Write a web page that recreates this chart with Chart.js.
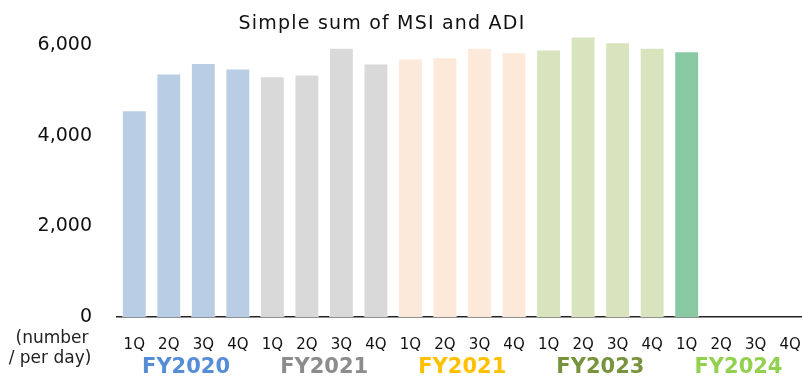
<!DOCTYPE html>
<html>
<head>
<meta charset="utf-8">
<script src="https://cdn.jsdelivr.net/npm/chart.js@4/dist/chart.umd.min.js"></script>
<style>
  html, body { margin: 0; padding: 0; background: #fff; overflow: hidden; }
  #msiChart { display: block; }
</style>
</head>
<body>
<canvas id="msiChart" width="820" height="376"></canvas>
<script>
// quarters along the x axis
const quarters = ['1Q', '2Q', '3Q', '4Q', '1Q', '2Q', '3Q', '4Q', '1Q', '2Q',
  '3Q', '4Q', '1Q', '2Q', '3Q', '4Q', '1Q', '2Q', '3Q', '4Q'];
// fiscal year groups (4 quarters each)
const fiscalYears = ['FY2020', 'FY2021', 'FY2021', 'FY2023', 'FY2024'];
const fyColors = ['#558ed5', '#8c8c8c', '#ffc000', '#77933c', '#92d050'];
const groupBarColors = ['#b9cde4', '#d9d9d9', '#fde9da', '#d8e4bd', '#88c8a2'];

// simple sum of MSI and ADI, number per day
const sumValues = [4570, 5380, 5610, 5490, 5320, 5360, 5950, 5600,
  5710, 5740, 5950, 5850, 5910, 6200, 6070, 5950, 5870, null, null, null];

const yTicks = [0, 2000, 4000, 6000];

const barColors = quarters.map((q, i) => groupBarColors[Math.floor(i / 4)]);

const textFont = '"DejaVu Sans", Verdana, sans-serif';

const extraText = {
  id: 'extraText',
  afterDraw(chart) {
    const ctx = chart.ctx;
    ctx.save();
    ctx.fillStyle = '#111';
    ctx.textBaseline = 'middle';
    ctx.font = '19px ' + textFont;
    ctx.letterSpacing = '1.2px';
    ctx.textAlign = 'center';
    ctx.fillText('Simple sum of MSI and ADI', 382, 24);
    ctx.letterSpacing = '0px';
    ctx.font = '17px ' + textFont;
    ctx.fillStyle = '#222';
    ctx.fillText('(number', 52, 339);
    ctx.fillText('/ per day)', 50, 359);
    ctx.restore();
  }
};

new Chart(document.getElementById('msiChart'), {
  type: 'bar',
  data: {
    labels: quarters,
    datasets: [{
      data: sumValues,
      backgroundColor: barColors,
      borderColor: 'rgba(255,255,255,0.6)',
      borderWidth: 1,
      categoryPercentage: 1,
      barPercentage: 0.72
    }]
  },
  options: {
    responsive: false,
    animation: false,
    layout: { padding: { top: 35, right: 3, left: 0, bottom: 0 } },
    plugins: {
      legend: { display: false },
      tooltip: { enabled: false }
    },
    scales: {
      x: {
        offset: true,
        grid: { display: false, drawTicks: false },
        border: { display: true, color: '#222', width: 1.5 },
        ticks: { color: '#111', font: { family: textFont, size: 15 }, padding: 19, maxRotation: 0, autoSkip: false },
        afterFit(scale) { scale.height = 37; }
      },
      x2: {
        type: 'category',
        labels: fiscalYears,
        position: 'bottom',
        weight: 1,
        offset: true,
        grid: { display: false, drawTicks: false },
        border: { display: false },
        ticks: {
          color: (c) => fyColors[c.index],
          font: { family: textFont, size: 21, weight: 'bold' },
          padding: 1,
          maxRotation: 0,
          autoSkip: false
        },
        afterFit(scale) { scale.height = 22; }
      },
      y: {
        min: 0,
        max: 6200,
        grid: { display: false, drawTicks: false },
        border: { display: false },
        afterBuildTicks(scale) { scale.ticks = yTicks.map(v => ({ value: v })); },
        ticks: { color: '#111', font: { family: textFont, size: 19 }, padding: 25 },
        afterFit(scale) { scale.width = 117; }
      }
    }
  },
  plugins: [extraText]
});
</script>
</body>
</html>
